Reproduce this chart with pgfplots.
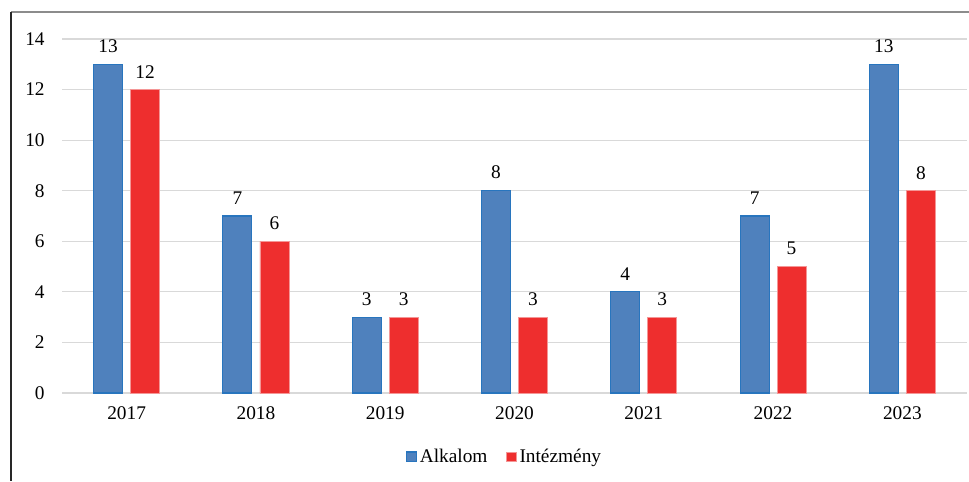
\documentclass[border=0pt]{standalone}
\usepackage{fontspec}
\setmainfont{Liberation Serif}
\usepackage{pgfplots}
\pgfplotsset{compat=1.18}
\definecolor{cblue}{RGB}{79,129,189}
\definecolor{cblueedge}{RGB}{40,117,190}
\definecolor{cred}{RGB}{238,46,46}
\definecolor{crededge}{RGB}{244,150,150}
\definecolor{cgrid}{RGB}{217,217,217}
\begin{document}
\begin{tikzpicture}
\fontsize{14.5}{17}\selectfont
\path[use as bounding box] (0,0) rectangle (726.75pt,-360.75pt);
\draw[color={rgb,255:red,140;green,140;blue,140}, line width=1.4pt] (8.25pt,-9pt) -- (726.75pt,-9pt);
\draw[color={rgb,255:red,40;green,40;blue,40}, line width=1.1pt] (8.25pt,-9pt) -- (8.25pt,-360.75pt);
\begin{axis}[
  at={(46.5pt,-294.75pt)}, anchor=south west,
  scale only axis, width=678.75pt, height=265.5pt,
  xmin=-0.5, xmax=6.5, ymin=0, ymax=14,
  xtick={0,1,2,3,4,5,6},
  xticklabels={2017,2018,2019,2020,2021,2022,2023},
  ytick={0,2,4,6,8,10,12,14},
  ymajorgrids, grid style={cgrid, line width=0.9pt},
  axis line style={draw=none},
  major tick length=0pt,
  tick label style={font=\fontsize{14.5}{17}\selectfont},
  /pgf/number format/assume math mode=true,
  yticklabel style={xshift=-8pt},
  xticklabel style={yshift=-5pt},
  ybar, bar width=0.224,
  nodes near coords,
  every node near coord/.append style={font=\fontsize{14.5}{17}\selectfont, yshift=3.5pt},
  legend columns=2,
  legend style={at={(0.4895,-0.181)}, anchor=center, draw=none, fill=none,
    font=\fontsize{14.5}{17}\selectfont,
    /tikz/every even column/.append style={column sep=12pt}},
  legend image code/.code={\draw[#1] (0pt,-3.6pt) rectangle (7.4pt,3.8pt);},
]
\addplot[fill=cblue, draw=cblueedge, line width=0.8pt, bar shift=-0.143]
  coordinates {(0,13) (1,7) (2,3) (3,8) (4,4) (5,7) (6,13)};
\addplot[fill=cred, draw=crededge, line width=0.6pt, bar shift=0.143]
  coordinates {(0,12) (1,6) (2,3) (3,3) (4,3) (5,5) (6,8)};
\legend{Alkalom, Intézmény}
\end{axis}
\end{tikzpicture}
\end{document}
